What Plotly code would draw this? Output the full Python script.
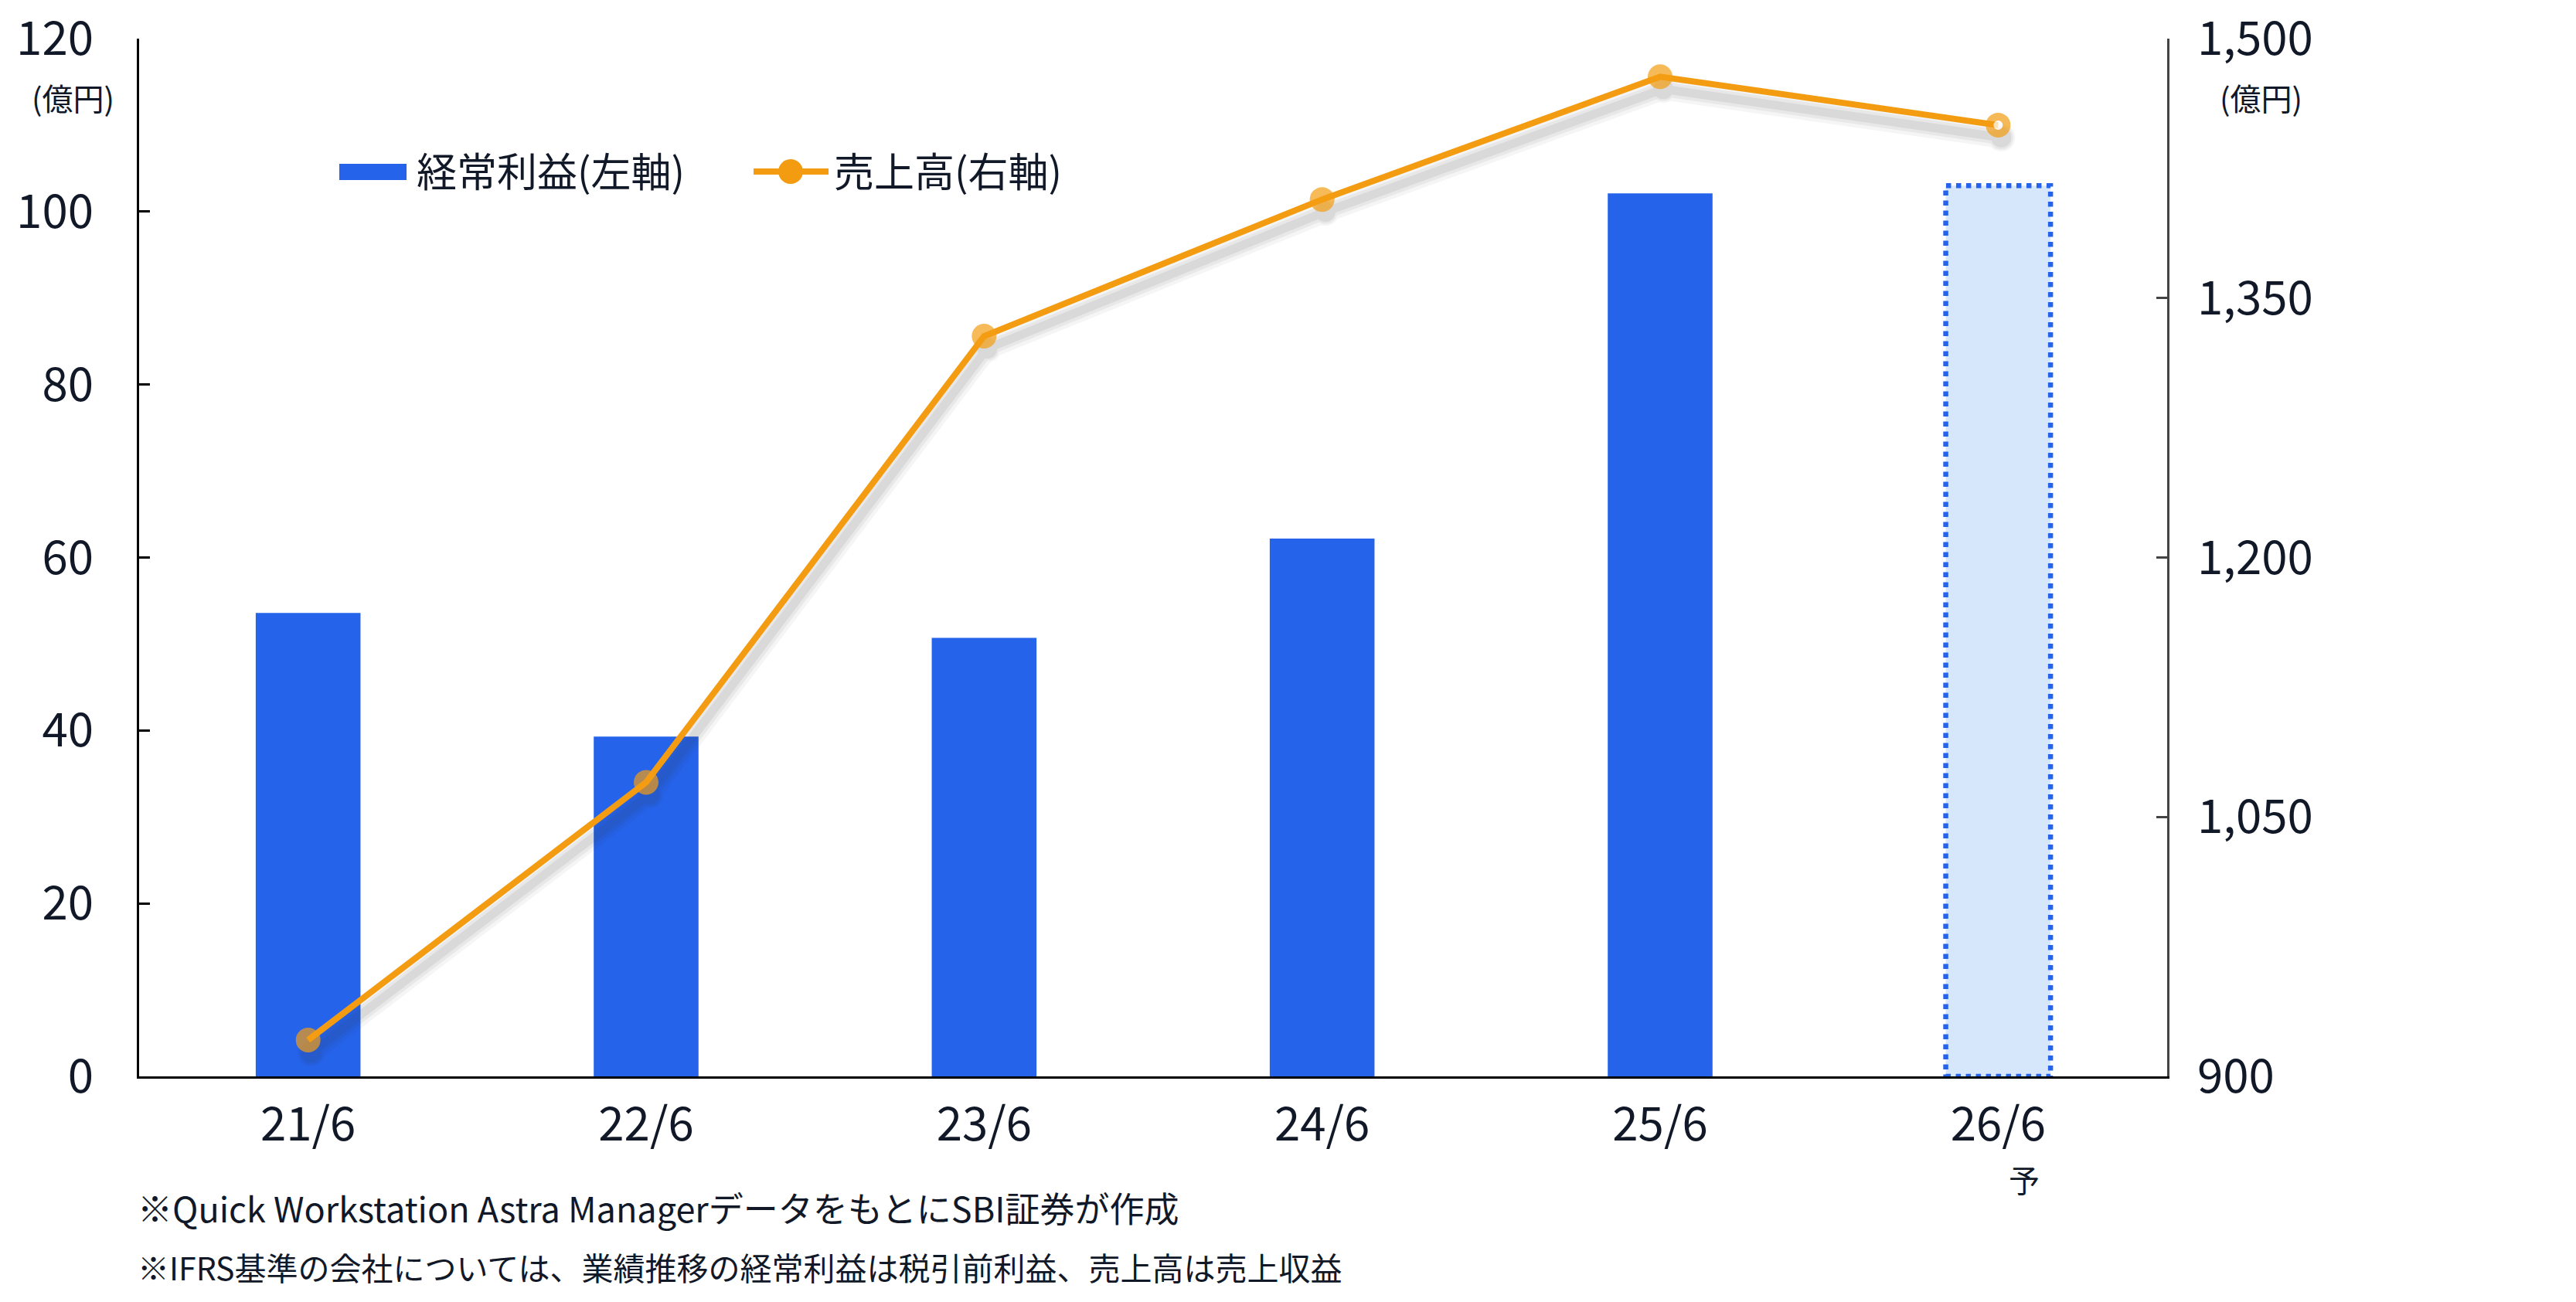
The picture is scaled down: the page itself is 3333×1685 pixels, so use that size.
import plotly.graph_objects as go

# ---------------- data ----------------
categories = ["21/6", "22/6", "23/6", "24/6", "25/6", "26/6"]
ordinary_profit = [53.6, 39.3, 50.7, 62.2, 102.1, 103.0]   # 経常利益（億円, 左軸）
sales = [921, 1070, 1328, 1407, 1478, 1450]                # 売上高（億円, 右軸）
is_forecast = [False, False, False, False, False, True]
left_ticks = [0, 20, 40, 60, 80, 100, 120]
right_ticks = [900, 1050, 1200, 1350, 1500]

# ---------------- style ----------------
W, H = 3333, 1685
BODY = 0                      # page body margin removed by post_script below
PL, PR, PT, PB = 180, 2804, 50, 1393   # target plot box in page pixels
ML, MT = PL - BODY, PT - BODY
MR = W + BODY - PR
MB = H + BODY - PB
PW, PH = PR - PL, PB - PT
FONT = "Noto Sans CJK JP"
TXT = "#111827"
BLUE = "#2563EB"
LIGHT = "#D6E6FB"
ORANGE = "#F39C12"

def px_x(px):
    return (px - PL) / PW

def px_y(py):
    return (PB - py) / PH

x_idx = list(range(len(categories)))
Y2_MIN, Y2_MAX = 900, 1500
X_MIN, X_MAX = -0.5, len(categories) - 0.5
BAR_W = 0.31

fig = go.Figure()

# bars
fig.add_trace(go.Bar(
    x=x_idx, y=ordinary_profit, width=BAR_W, name="経常利益(左軸)",
    marker=dict(color=[LIGHT if f else BLUE for f in is_forecast], line=dict(width=0)),
    showlegend=False, yaxis="y",
))

# soft shadow under the sales line (pixel offsets converted to axis units)
dx = 4 / (PW / (X_MAX - X_MIN))
dy = 16 / (PH / (Y2_MAX - Y2_MIN))
for lw, ms, op in [(28, 36, 0.045), (19, 31, 0.06), (11, 26, 0.08)]:
    fig.add_trace(go.Scatter(
        x=[i + dx for i in x_idx], y=[v - dy for v in sales], yaxis="y2",
        mode="lines+markers", line=dict(color="#333333", width=lw),
        marker=dict(size=ms, color="#333333"), opacity=op,
        showlegend=False, hoverinfo="skip",
    ))

# sales line
fig.add_trace(go.Scatter(
    x=x_idx, y=sales, yaxis="y2", name="売上高(右軸)",
    mode="lines+markers", line=dict(color=ORANGE, width=8),
    marker=dict(
        size=[22 if f else 32 for f in is_forecast],
        color=["white" if f else ORANGE for f in is_forecast],
        line=dict(color=ORANGE, width=[10 if f else 0 for f in is_forecast]),
    ),
    showlegend=False,
))

shapes = []
# dotted outline for forecast bar
for i, (v, f) in enumerate(zip(ordinary_profit, is_forecast)):
    if f:
        shapes.append(dict(
            type="rect", xref="x", yref="y",
            x0=i - BAR_W / 2, x1=i + BAR_W / 2, y0=0, y1=v,
            line=dict(color=BLUE, width=6.5, dash="dot"), fillcolor="rgba(0,0,0,0)",
        ))

# custom legend
shapes.append(dict(type="rect", xref="paper", yref="paper",
                   x0=px_x(439), x1=px_x(526), y0=px_y(233), y1=px_y(212),
                   fillcolor=BLUE, line=dict(width=0)))
shapes.append(dict(type="line", xref="paper", yref="paper",
                   x0=px_x(975), x1=px_x(1072), y0=px_y(222), y1=px_y(222),
                   line=dict(color=ORANGE, width=8)))
shapes.append(dict(type="circle", xref="paper", yref="paper",
                   x0=px_x(1023 - 16), x1=px_x(1023 + 16), y0=px_y(222 + 16), y1=px_y(222 - 16),
                   fillcolor=ORANGE, line=dict(width=0)))

annotations = [
    dict(text="経常利益(左軸)", x=px_x(537), y=px_y(219), xanchor="left", yanchor="middle",
         font=dict(size=52, color=TXT, family=FONT)),
    dict(text="売上高(右軸)", x=px_x(1077), y=px_y(219), xanchor="left", yanchor="middle",
         font=dict(size=52, color=TXT, family=FONT)),
    dict(text="(億円)", x=px_x(94), y=px_y(126), xanchor="center", yanchor="middle",
         font=dict(size=40, color=TXT, family=FONT)),
    dict(text="(億円)", x=px_x(2926), y=px_y(126), xanchor="center", yanchor="middle",
         font=dict(size=40, color=TXT, family=FONT)),
    dict(text="予", x=px_x(2619), y=px_y(1526), xanchor="center", yanchor="middle",
         font=dict(size=40, color=TXT, family=FONT)),
    dict(text="※Quick Workstation Astra ManagerデータをもとにSBI証券が作成",
         x=px_x(176), y=px_y(1562), xanchor="left", yanchor="middle",
         font=dict(size=45, color=TXT, family=FONT)),
    dict(text="※IFRS基準の会社については、業績推移の経常利益は税引前利益、売上高は売上収益",
         x=px_x(176), y=px_y(1639), xanchor="left", yanchor="middle",
         font=dict(size=41, color=TXT, family=FONT)),
]
for a in annotations:
    a.update(xref="paper", yref="paper", showarrow=False)

fig.update_layout(
    width=W, height=H,
    margin=dict(l=ML, r=MR, t=MT, b=MB, pad=0, autoexpand=False),
    paper_bgcolor="white", plot_bgcolor="white",
    font=dict(family=FONT, color=TXT, size=60),
    showlegend=False,
    xaxis=dict(
        range=[X_MIN, X_MAX], tickvals=x_idx, ticktext=categories,
        showline=True, linecolor="black", linewidth=3, ticks="",
        showgrid=False, zeroline=False, ticklabelstandoff=8, automargin=False,
        ticklabeloverflow="allow",
        tickfont=dict(size=60, color=TXT, family=FONT),
    ),
    yaxis=dict(
        range=[0, 120], tickvals=left_ticks,
        showline=True, linecolor="black", linewidth=3,
        ticks="inside", ticklen=14, tickwidth=3, tickcolor="black",
        showgrid=False, zeroline=False, ticklabelstandoff=44, automargin=False,
        ticklabeloverflow="allow",
        tickfont=dict(size=60, color=TXT, family=FONT),
    ),
    yaxis2=dict(
        range=[Y2_MIN, Y2_MAX], tickvals=right_ticks, tickformat=",",
        overlaying="y", side="right", anchor="x",
        showline=True, linecolor="#444444", linewidth=3,
        ticks="inside", ticklen=14, tickwidth=3, tickcolor="#444444",
        showgrid=False, zeroline=False, ticklabelstandoff=24, automargin=False,
        ticklabeloverflow="allow",
        tickfont=dict(size=60, color=TXT, family=FONT),
    ),
    shapes=shapes,
    annotations=annotations,
)

fig.write_html(
    "out.html",
    config={"displayModeBar": False},
    post_script="document.body.style.margin='0px';document.body.style.overflow='hidden';",
)
